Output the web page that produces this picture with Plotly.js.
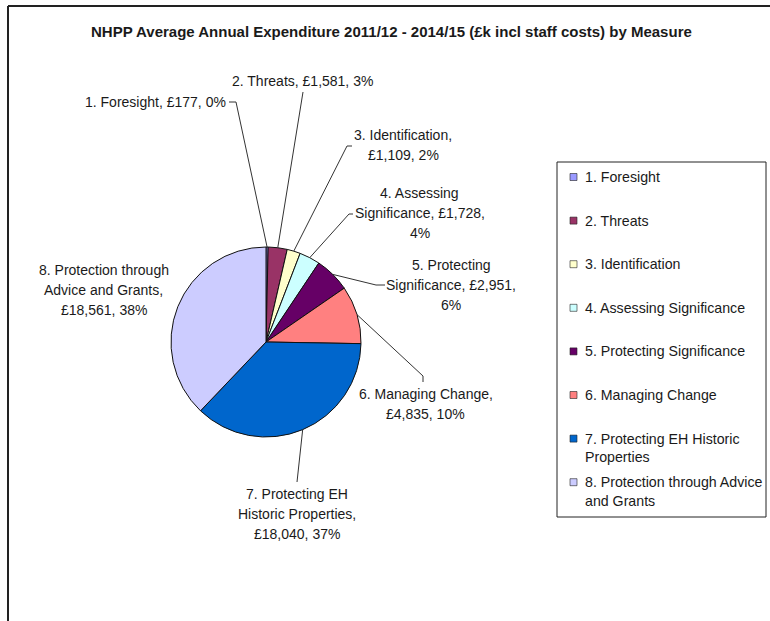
<!DOCTYPE html>
<html>
<head>
<meta charset="utf-8">
<script src="https://cdn.plot.ly/plotly-3.0.1.min.js"></script>
<style>html,body{margin:0;padding:0;background:#fff;}#chart{width:770px;height:621px;}</style>
</head>
<body>
<div id="chart"></div>
<script>
// ---- DATA ----
const chartTitle = "NHPP Average Annual Expenditure 2011/12 - 2014/15 (£k incl staff costs) by Measure";
const categories = [
  "1. Foresight",
  "2. Threats",
  "3. Identification",
  "4. Assessing Significance",
  "5. Protecting Significance",
  "6. Managing Change",
  "7. Protecting EH Historic Properties",
  "8. Protection through Advice and Grants"
];
const values = [177, 1581, 1109, 1728, 2951, 4835, 18040, 18561];
const sliceColors = ["#9999FF", "#993366", "#FFFFCC", "#CCFFFF", "#660066", "#FF8080", "#0066CC", "#CCCCFF"];

// ---- LAYOUT HELPERS ----
const W = 770, H = 621;
const px = x => x / W;
const py = y => 1 - y / H;
const pieCx = 266, pieCy = 342, pieR = 95;
const FONT = "Liberation Sans, Arial, sans-serif";
const TXT = "#1a1a1a";

const total = values.reduce((a, b) => a + b, 0);
const money = v => "£" + v.toLocaleString("en-GB");
const pct = v => Math.round(v / total * 100) + "%";

// how many words on each line of each data label, and label placement
const labelWrap = [[4], [4], [2, 2], [2, 2, 1], [2, 2, 1], [3, 2], [3, 2, 1], [3, 3, 2]];
const labelPos = [
  {x: 228, y: 102, anchor: "right", path: [[236, 102], [229, 102]]},
  {x: 302, y: 81, anchor: "center", path: [[303, 92]]},
  {x: 403, y: 135, anchor: "center", path: [[347, 146], [352, 146]]},
  {x: 420, y: 193, anchor: "center", path: [[349, 214], [353, 214]]},
  {x: 451, y: 265, anchor: "center", path: [[376, 285], [385, 285]]},
  {x: 426, y: 394, anchor: "center", path: [[423, 376], [423, 382]]},
  {x: 297, y: 494, anchor: "center", path: [[297, 482]]},
  {x: 104, y: 270, anchor: "center", path: null}
];
const legendWrap = [[2], [2], [2], [3], [3], [3], [4, 1], [4, 2]];

function wrapWords(text, counts) {
  const t = text.split(" ");
  const out = []; let k = 0;
  counts.forEach(c => { out.push(t.slice(k, k + c).join(" ")); k += c; });
  if (k < t.length) out[out.length - 1] += " " + t.slice(k).join(" ");
  return out;
}

const annotations = [];
const shapes = [];

// title
annotations.push({
  xref: "paper", yref: "paper", x: px(391), y: py(31), xanchor: "center", yanchor: "middle",
  text: "<b>" + chartTitle + "</b>", showarrow: false,
  font: {family: FONT, size: 15, color: TXT}
});

// frame lines (left and top)
shapes.push({type: "line", xref: "paper", yref: "paper", x0: px(8), x1: px(8), y0: py(6), y1: 0, line: {color: "#222", width: 2}});
shapes.push({type: "line", xref: "paper", yref: "paper", x0: px(8), x1: 1, y0: py(6), y1: py(6), line: {color: "#222", width: 2}});

// data labels + leader lines
let cum = 0;
values.forEach((v, i) => {
  const mid = (cum + v / 2) / total * 2 * Math.PI;
  cum += v;
  const axp = pieCx + pieR * Math.sin(mid);
  const ayp = pieCy - pieR * Math.cos(mid);
  const full = categories[i] + ", " + money(v) + ", " + pct(v);
  const lines = wrapWords(full, labelWrap[i]);
  const lp = labelPos[i];
  lines.forEach((ln, k) => {
    annotations.push({
      xref: "paper", yref: "paper", x: px(lp.x), y: py(lp.y + k * 20),
      xanchor: lp.anchor, yanchor: "middle", text: ln, showarrow: false,
      font: {family: FONT, size: 14, color: TXT}
    });
  });
  if (lp.path) {
    let d = "M " + px(axp) + "," + py(ayp);
    lp.path.forEach(p => { d += " L " + px(p[0]) + "," + py(p[1]); });
    shapes.push({type: "path", xref: "paper", yref: "paper", path: d, line: {color: "#333", width: 1}});
  }
});

// legend box
shapes.push({type: "rect", xref: "paper", yref: "paper", x0: px(557), x1: px(766), y0: py(162), y1: py(517),
  line: {color: "#222", width: 1}, fillcolor: "rgba(0,0,0,0)"});
categories.forEach((c, i) => {
  const yc = 177 + i * 43.6;
  shapes.push({type: "rect", xref: "paper", yref: "paper", x0: px(570), x1: px(577), y0: py(yc - 3.5), y1: py(yc + 3.5),
    line: {color: "#222", width: 0.6}, fillcolor: sliceColors[i]});
  wrapWords(c, legendWrap[i]).forEach((ln, k) => {
    annotations.push({
      xref: "paper", yref: "paper", x: px(583), y: py(yc + k * 18.5), xanchor: "left", yanchor: "middle",
      text: ln, showarrow: false, font: {family: FONT, size: 14.2, color: TXT}
    });
  });
});

const trace = {
  type: "pie",
  labels: categories,
  values: values,
  sort: false,
  direction: "clockwise",
  rotation: 0,
  textinfo: "none",
  hoverinfo: "skip",
  marker: {colors: sliceColors, line: {color: "#111", width: 1}},
  domain: {x: [px(pieCx - pieR), px(pieCx + pieR)], y: [py(pieCy + pieR), py(pieCy - pieR)]},
  showlegend: false
};

const layout = {
  width: W, height: H,
  margin: {l: 0, r: 0, t: 0, b: 0},
  paper_bgcolor: "#fff",
  showlegend: false,
  annotations: annotations,
  shapes: shapes,
  font: {family: FONT}
};

Plotly.newPlot("chart", [trace], layout, {staticPlot: true, displayModeBar: false});
</script>
</body>
</html>
